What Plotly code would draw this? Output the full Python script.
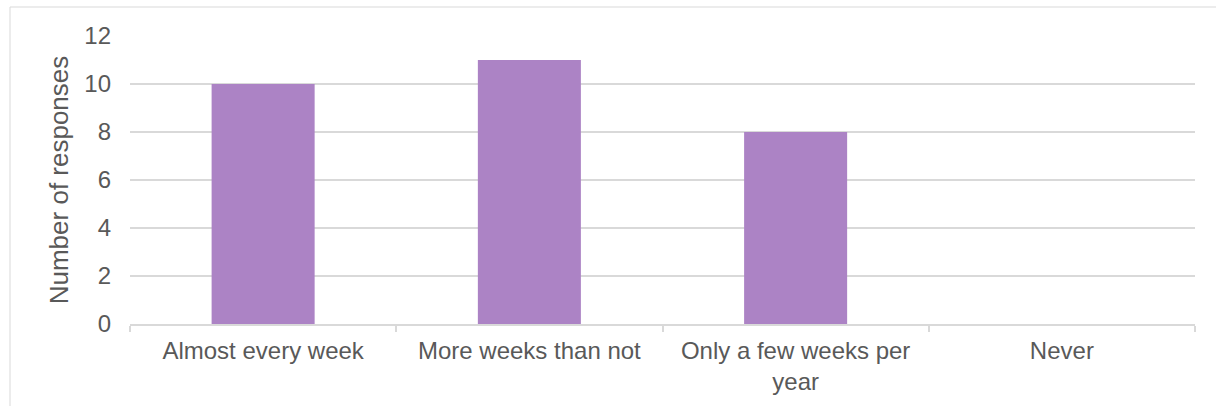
import plotly.graph_objects as go

categories = ["Almost every week", "More weeks than not", "Only a few weeks per<br>year", "Never"]
values = [10, 11, 8, 0]
y_ticks = [0, 2, 4, 6, 8, 10, 12]

fig = go.Figure(go.Bar(x=categories, y=values, marker=dict(color="#AC83C5", line=dict(width=0)),
                       hoverinfo="skip"))

L, R, T, B = 130, 21, 36, 82
W, H = 1216, 406
pw, ph = W - L - R, H - T - B

def px_to_paper_x(px):
    return (px - L) / pw

def px_to_paper_y(py):
    return (H - B - py) / ph

fig.update_layout(
    width=W, height=H,
    margin=dict(l=L, r=R, t=T, b=B),
    plot_bgcolor="white", paper_bgcolor="white",
    bargap=0.613,
    showlegend=False,
    font=dict(family="Liberation Sans, Arial", color="#595959", size=24),
    xaxis=dict(
        showline=True, linecolor="#D9D9D9", linewidth=1.5,
        ticks="outside", tickson="boundaries", ticklen=6, tickcolor="#D9D9D9", tickwidth=1.5,
        tickfont=dict(size=24, color="#595959"),
        ticklabelstandoff=4,
        showgrid=False,
    ),
    yaxis=dict(
        range=[0, 12], tickvals=y_ticks,
        showgrid=True, gridcolor="#D9D9D9", gridwidth=1.5,
        zeroline=False, showline=False,
        tickfont=dict(size=24, color="#595959"),
        ticklabelstandoff=18,
        title=dict(text="Number of responses", font=dict(size=26, color="#595959"), standoff=8),
    ),
    shapes=[dict(
        type="rect", xref="paper", yref="paper",
        x0=px_to_paper_x(10), x1=px_to_paper_x(1230),
        y0=px_to_paper_y(420), y1=px_to_paper_y(7),
        line=dict(color="#D9D9D9", width=1), fillcolor="rgba(0,0,0,0)", layer="below",
    )],
)

fig.write_html("out.html", config={"displayModeBar": False},
               post_script="document.body.style.margin='0';")
